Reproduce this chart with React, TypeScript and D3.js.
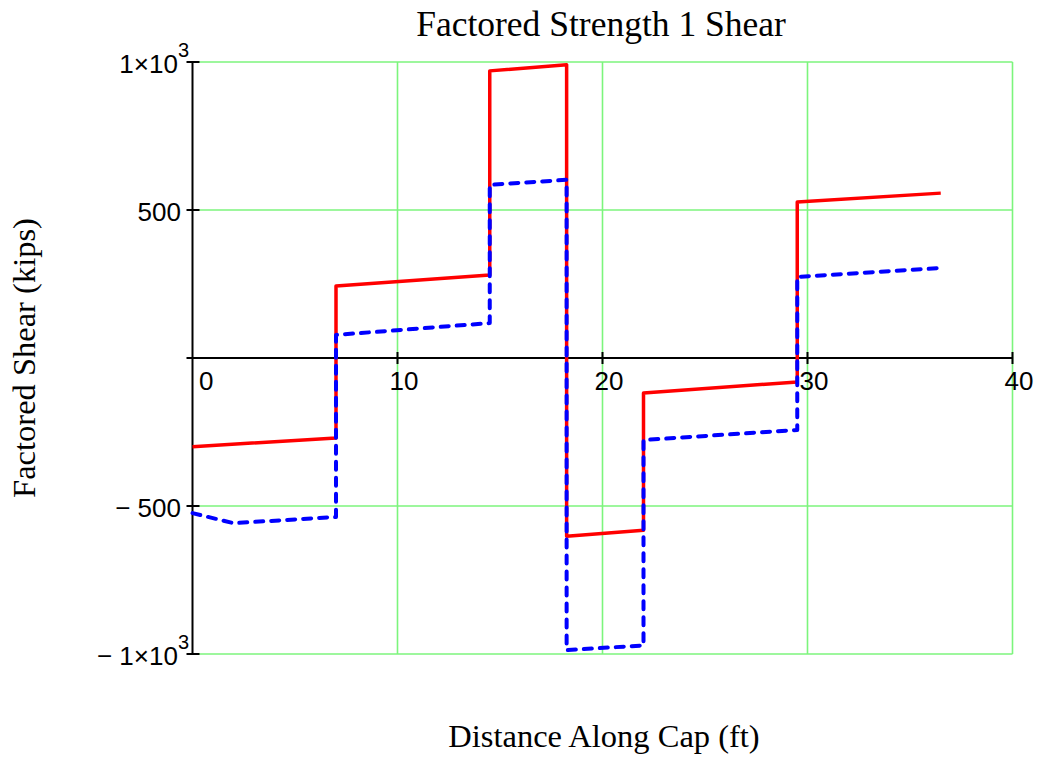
import React from "react";
import * as d3 from "d3";

const redDistance = [0, 7, 7, 14.5, 14.5, 18.25, 18.25, 22, 22, 29.5, 29.5, 36.5];
const redShear = [-300, -270, 243, 280, 970, 991, -602, -582, -118, -81, 527, 557];
const blueDistance = [0, 2, 7, 7, 14.5, 14.5, 18.25, 18.25, 22, 22, 29.5, 29.5, 36.5];
const blueShear = [-524, -558, -537, 78, 118, 585, 602, -987, -971, -277, -243, 274, 304];
const xTicks = [0, 10, 20, 30, 40];
const yTicks = [-1000, -500, 500, 1000];
const xGrid = [10, 20, 30, 40];
const yGrid = [-1000, -500, 500, 1000];

const W = 1040;
const H = 760;
const GRID = "#7cf57c";

export default function App() {
  const x = d3.scaleLinear().domain([0, 40]).range([192.5, 1012.5]);
  const y = d3.scaleLinear().domain([-1000, 1000]).range([654, 62]);
  const line = d3
    .line<[number, number]>()
    .x((d) => x(d[0]))
    .y((d) => y(d[1]));
  const redPts = redDistance.map((d, i) => [d, redShear[i]] as [number, number]);
  const bluePts = blueDistance.map((d, i) => [d, blueShear[i]] as [number, number]);

  const yLabel = (v: number) => {
    const neg = v < 0;
    const a = Math.abs(v);
    const prefix = neg ? "\u2212 " : "";
    if (a === 1000) {
      return (
        <>
          {prefix}1×10
          <tspan dy={-16} fontSize={20}>3</tspan>
        </>
      );
    }
    return <>{prefix + a}</>;
  };

  return (
    <svg
      width={W}
      height={H}
      style={{ position: "absolute", left: 0, top: 0, background: "#fff" }}
    >
      <rect x={0} y={0} width={W} height={H} fill="#fff" />
      {xGrid.map((v) => (
        <line key={"gx" + v} x1={x(v)} x2={x(v)} y1={y(1000)} y2={y(-1000)} stroke={GRID} strokeWidth={1.6} />
      ))}
      {yGrid.map((v) => (
        <line key={"gy" + v} x1={x(0)} x2={x(40)} y1={y(v)} y2={y(v)} stroke={GRID} strokeWidth={1.6} />
      ))}
      <line x1={x(0)} x2={x(0)} y1={y(1000)} y2={y(-1000) + 1} stroke="#000" strokeWidth={2} />
      <line x1={x(0) - 6} x2={x(40)} y1={y(0)} y2={y(0)} stroke="#000" strokeWidth={2} />
      {xTicks.filter((v) => v !== 0).map((v) => (
        <line key={"tx" + v} x1={x(v)} x2={x(v)} y1={y(0) - 6} y2={y(0) + 6} stroke="#000" strokeWidth={2} />
      ))}
      {yTicks.map((v) => (
        <line key={"ty" + v} x1={x(0) - 6} x2={x(0) + 7} y1={y(v)} y2={y(v)} stroke="#000" strokeWidth={2} />
      ))}
      <g fontFamily="'Liberation Sans', Arial, sans-serif" fontSize={26} fill="#000">
        {xTicks.map((v) => (
          <text key={"lx" + v} x={x(v) + 21} y={y(0) + 32} textAnchor="end">
            {v}
          </text>
        ))}
        {yTicks.map((v) => (
          <text key={"ly" + v} x={Math.abs(v) === 1000 ? 189 : 181} y={y(v) + 11} textAnchor="end">
            {yLabel(v)}
          </text>
        ))}
      </g>
      <path d={line(redPts) || ""} fill="none" stroke="#ff0000" strokeWidth={3.5} strokeLinejoin="round" />
      <path
        d={line(bluePts) || ""}
        fill="none"
        stroke="#0000ff"
        strokeWidth={4}
        strokeDasharray="8,8"
        strokeLinecap="round"
        strokeLinejoin="round"
      />
      <g fontFamily="'Liberation Serif', 'Times New Roman', serif" fill="#000">
        <text x={601} y={36} textAnchor="middle" fontSize={35.5}>
          Factored Strength 1 Shear
        </text>
        <text x={604} y={747} textAnchor="middle" fontSize={32.5}>
          Distance Along Cap (ft)
        </text>
        <text transform={`translate(35,${y(0)}) rotate(-90)`} textAnchor="middle" fontSize={32.5}>
          Factored Shear (kips)
        </text>
      </g>
    </svg>
  );
}
